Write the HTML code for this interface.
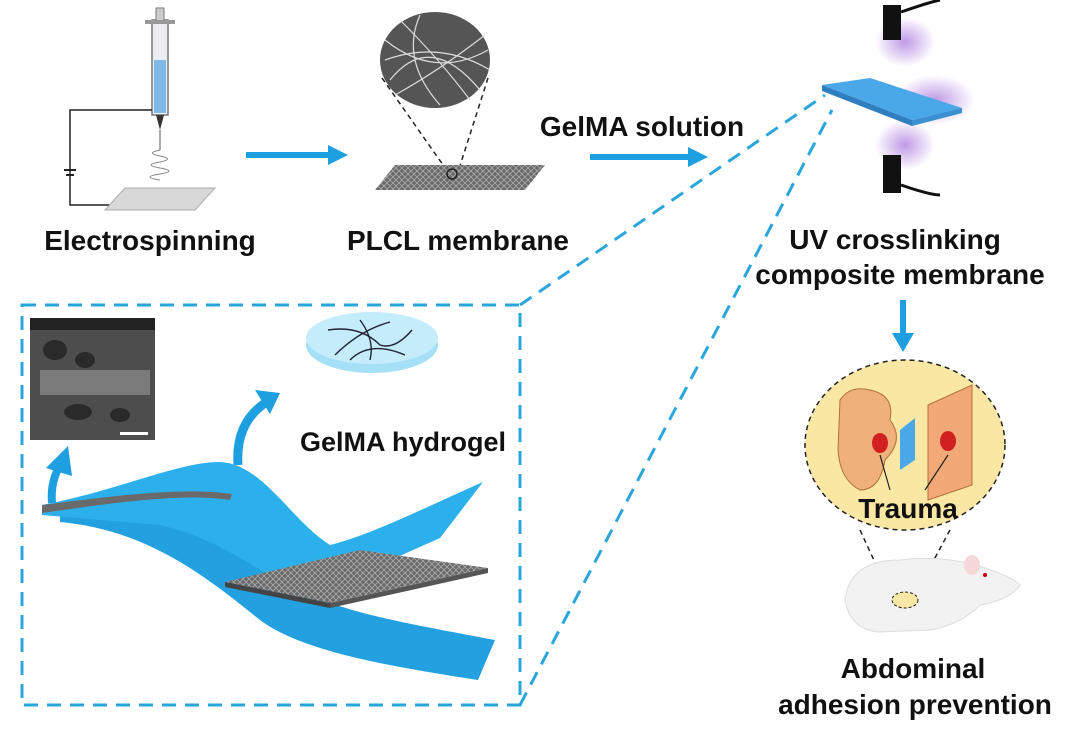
<!DOCTYPE html>
<html><head><meta charset="utf-8"><style>
html,body{margin:0;padding:0;background:#fff;}
svg{display:block;}
text{font-family:"Liberation Sans",Arial,sans-serif;font-weight:bold;fill:#111;}
</style></head><body>
<svg width="1080" height="739" viewBox="0 0 1080 739" xmlns="http://www.w3.org/2000/svg">
<defs>
<radialGradient id="glow"><stop offset="0" stop-color="#b080e0" stop-opacity="0.8"/><stop offset="1" stop-color="#b080e0" stop-opacity="0"/></radialGradient>
<pattern id="mesh" width="6" height="6" patternUnits="userSpaceOnUse"><rect width="6" height="6" fill="#6a6a6a"/><path d="M0 6L6 0M0 0L6 6" stroke="#aaa" stroke-width="0.8"/></pattern>
</defs>
<!-- Electrospinning -->
<rect x="152" y="20" width="16" height="95" fill="#e8eef4" stroke="#777" stroke-width="1.5"/>
<rect x="154" y="60" width="12" height="53" fill="#7fb7e8"/>
<rect x="156" y="8" width="8" height="14" fill="#ccc" stroke="#777"/>
<rect x="145" y="20" width="30" height="4" fill="#999"/>
<path d="M156 115 L164 115 L160 130z" fill="#333"/>
<path d="M160 130 L160 150" stroke="#555" stroke-width="1"/>
<path d="M160 150 q-15 3 0 6 q15 3 0 6 q-18 3 0 6 q18 3 0 6 q-20 3 0 6" stroke="#888" fill="none"/>
<path d="M152 110 H70 V205 H120" stroke="#222" stroke-width="1.5" fill="none"/>
<path d="M64 170 h12 M66 175 h8" stroke="#222" stroke-width="2"/>
<path d="M125 188 L215 188 L195 210 L105 210z" fill="#d8d8d8" stroke="#aaa"/>
<text x="150" y="250" font-size="28" text-anchor="middle">Electrospinning</text>
<path d="M246 155 H330" stroke="#1ea0e0" stroke-width="6"/><path d="M328 145 L348 155 L328 165z" fill="#1ea0e0"/>
<!-- PLCL -->
<ellipse cx="435" cy="60" rx="55" ry="48" fill="#555"/>
<g stroke="#ddd" stroke-width="1.2" fill="none"><path d="M385 40 Q435 80 488 50M390 80 Q430 30 480 90M400 20 Q440 60 470 100M420 15 Q400 60 440 105M385 60 Q440 40 490 70M395 95 Q440 70 485 35"/></g>
<path d="M382 78 L448 172 M488 78 L458 172" stroke="#222" stroke-dasharray="5 4" stroke-width="1.5"/>
<path d="M395 165 L545 165 L525 190 L375 190z" fill="url(#mesh)"/>
<circle cx="452" cy="174" r="5" fill="none" stroke="#222" stroke-width="1.5"/>
<text x="458" y="250" font-size="28" text-anchor="middle">PLCL membrane</text>
<text x="642" y="136" font-size="28" text-anchor="middle">GelMA solution</text>
<path d="M590 157 H690" stroke="#1ea0e0" stroke-width="6"/><path d="M688 147 L708 157 L688 167z" fill="#1ea0e0"/>
<!-- UV -->
<ellipse cx="905" cy="42" rx="30" ry="25" fill="url(#glow)"/>
<ellipse cx="905" cy="145" rx="30" ry="25" fill="url(#glow)"/>
<ellipse cx="935" cy="100" rx="40" ry="25" fill="url(#glow)"/>
<rect x="883" y="5" width="18" height="35" fill="#111"/>
<path d="M901 12 Q930 2 940 0" stroke="#111" stroke-width="3" fill="none"/>
<rect x="883" y="155" width="18" height="38" fill="#111"/>
<path d="M901 185 Q930 195 940 195" stroke="#111" stroke-width="3" fill="none"/>
<path d="M822 85 L870 78 L962 108 L912 120z" fill="#4aa8e8"/>
<path d="M822 85 L912 120 L912 126 L822 91z" fill="#2f7fc0"/>
<path d="M912 120 L962 108 L962 113 L912 126z" fill="#3a90d0"/>
<text x="895" y="249" font-size="28" text-anchor="middle">UV crosslinking</text>
<text x="900" y="284" font-size="28" text-anchor="middle">composite membrane</text>
<path d="M903 300 V335" stroke="#1ea0e0" stroke-width="6"/><path d="M892 333 L903 352 L914 333z" fill="#1ea0e0"/>
<!-- dashed zoom box -->
<g stroke="#2aa6dc" stroke-width="3" stroke-dasharray="14 9" fill="none">
<path d="M22 305 H520 V705 H22 Z"/>
<path d="M520 305 L825 95"/>
<path d="M520 705 L832 110"/>
</g>
<!-- SEM -->
<rect x="30" y="318" width="125" height="122" fill="#4d4d4d"/>
<rect x="30" y="318" width="125" height="12" fill="#222"/>
<g fill="#2a2a2a"><ellipse cx="55" cy="350" rx="12" ry="10"/><ellipse cx="85" cy="360" rx="10" ry="8"/><ellipse cx="78" cy="412" rx="14" ry="8"/><ellipse cx="120" cy="415" rx="10" ry="7"/></g>
<rect x="40" y="370" width="110" height="25" fill="#7a7a7a"/>
<rect x="120" y="432" width="28" height="3" fill="#fff"/>
<!-- hydrogel disk -->
<ellipse cx="372" cy="345" rx="66" ry="28" fill="#a6e0f6"/>
<ellipse cx="372" cy="338" rx="66" ry="26" fill="#c4ecfb"/>
<g stroke="#223" stroke-width="1.4" fill="none"><path d="M328 330 Q360 325 380 345 Q395 350 412 330M335 355 Q360 330 390 322M350 360 Q370 340 405 355M360 320 Q375 340 370 360"/></g>
<text x="403" y="451" font-size="27" text-anchor="middle">GelMA hydrogel</text>
<!-- arrows -->
<path d="M52 503 Q50 480 62 462" stroke="#1ea0e0" stroke-width="8" fill="none"/><path d="M46 468 L68 446 L72 476z" fill="#1ea0e0"/>
<path d="M238 465 Q235 420 270 400" stroke="#1ea0e0" stroke-width="9" fill="none"/><path d="M255 390 L280 393 L270 414z" fill="#1ea0e0"/>
<!-- bottom sheet -->
<path d="M60 515 C150 505 230 520 280 570 C310 605 360 615 495 640 L478 680 C380 665 300 650 260 620 C210 580 150 530 60 522z" fill="#22a0e0"/>
<!-- top sheet -->
<path d="M42 505 C120 490 175 463 218 462 C262 462 290 520 330 545 C370 535 420 510 483 482 L440 538 C390 560 340 585 300 590 C260 575 225 540 160 525 L42 515z" fill="#2cb0ec"/>
<path d="M42 505 L42 513 C100 505 180 492 230 500 L232 494 C180 486 100 498 42 505z" fill="#6a6a6a"/>
<!-- mesh -->
<path d="M225 582 L360 550 L488 568 L330 603z" fill="url(#mesh)"/>
<path d="M225 582 L330 603 L330 608 L225 587z" fill="#444"/>
<path d="M330 603 L488 568 L488 573 L330 608z" fill="#555"/>
<!-- yellow circle -->
<ellipse cx="905" cy="445" rx="100" ry="85" fill="#fbe7a4" stroke="#222" stroke-width="1.5" stroke-dasharray="5 4"/>
<path d="M840 400 Q850 385 870 390 Q895 395 890 420 Q905 440 885 460 Q880 490 860 490 Q840 480 838 450z" fill="#f0b07a" stroke="#b07040"/>
<path d="M928 405 L972 385 L972 485 L928 500z" fill="#f3a878" stroke="#b07040"/>
<path d="M900 430 L915 418 L915 460 L900 470z" fill="#4aa8e8"/>
<ellipse cx="880" cy="443" rx="8" ry="10" fill="#d02020"/>
<ellipse cx="948" cy="441" rx="8" ry="10" fill="#d02020"/>
<path d="M880 455 L890 490 M948 455 L925 490" stroke="#222" stroke-width="1.2"/>
<text x="908" y="518" font-size="28" text-anchor="middle">Trauma</text>
<!-- rat -->
<path d="M860 530 L890 595 M950 530 L915 595" stroke="#222" stroke-width="1.5" stroke-dasharray="5 4"/>
<path d="M845 600 Q850 560 900 560 Q940 555 975 565 Q1010 575 1020 585 Q1010 600 980 605 Q960 625 930 630 L880 632 Q850 630 845 600z" fill="#f2f2f2" stroke="#ddd"/>
<ellipse cx="972" cy="565" rx="8" ry="10" fill="#f5d8d8"/>
<circle cx="985" cy="575" r="2" fill="#c00"/>
<ellipse cx="905" cy="600" rx="13" ry="8" fill="#fbe7a4" stroke="#222" stroke-dasharray="3 2"/>
<text x="913" y="678" font-size="28" text-anchor="middle">Abdominal</text>
<text x="915" y="714" font-size="28" text-anchor="middle">adhesion prevention</text>
</svg>
</body></html>
